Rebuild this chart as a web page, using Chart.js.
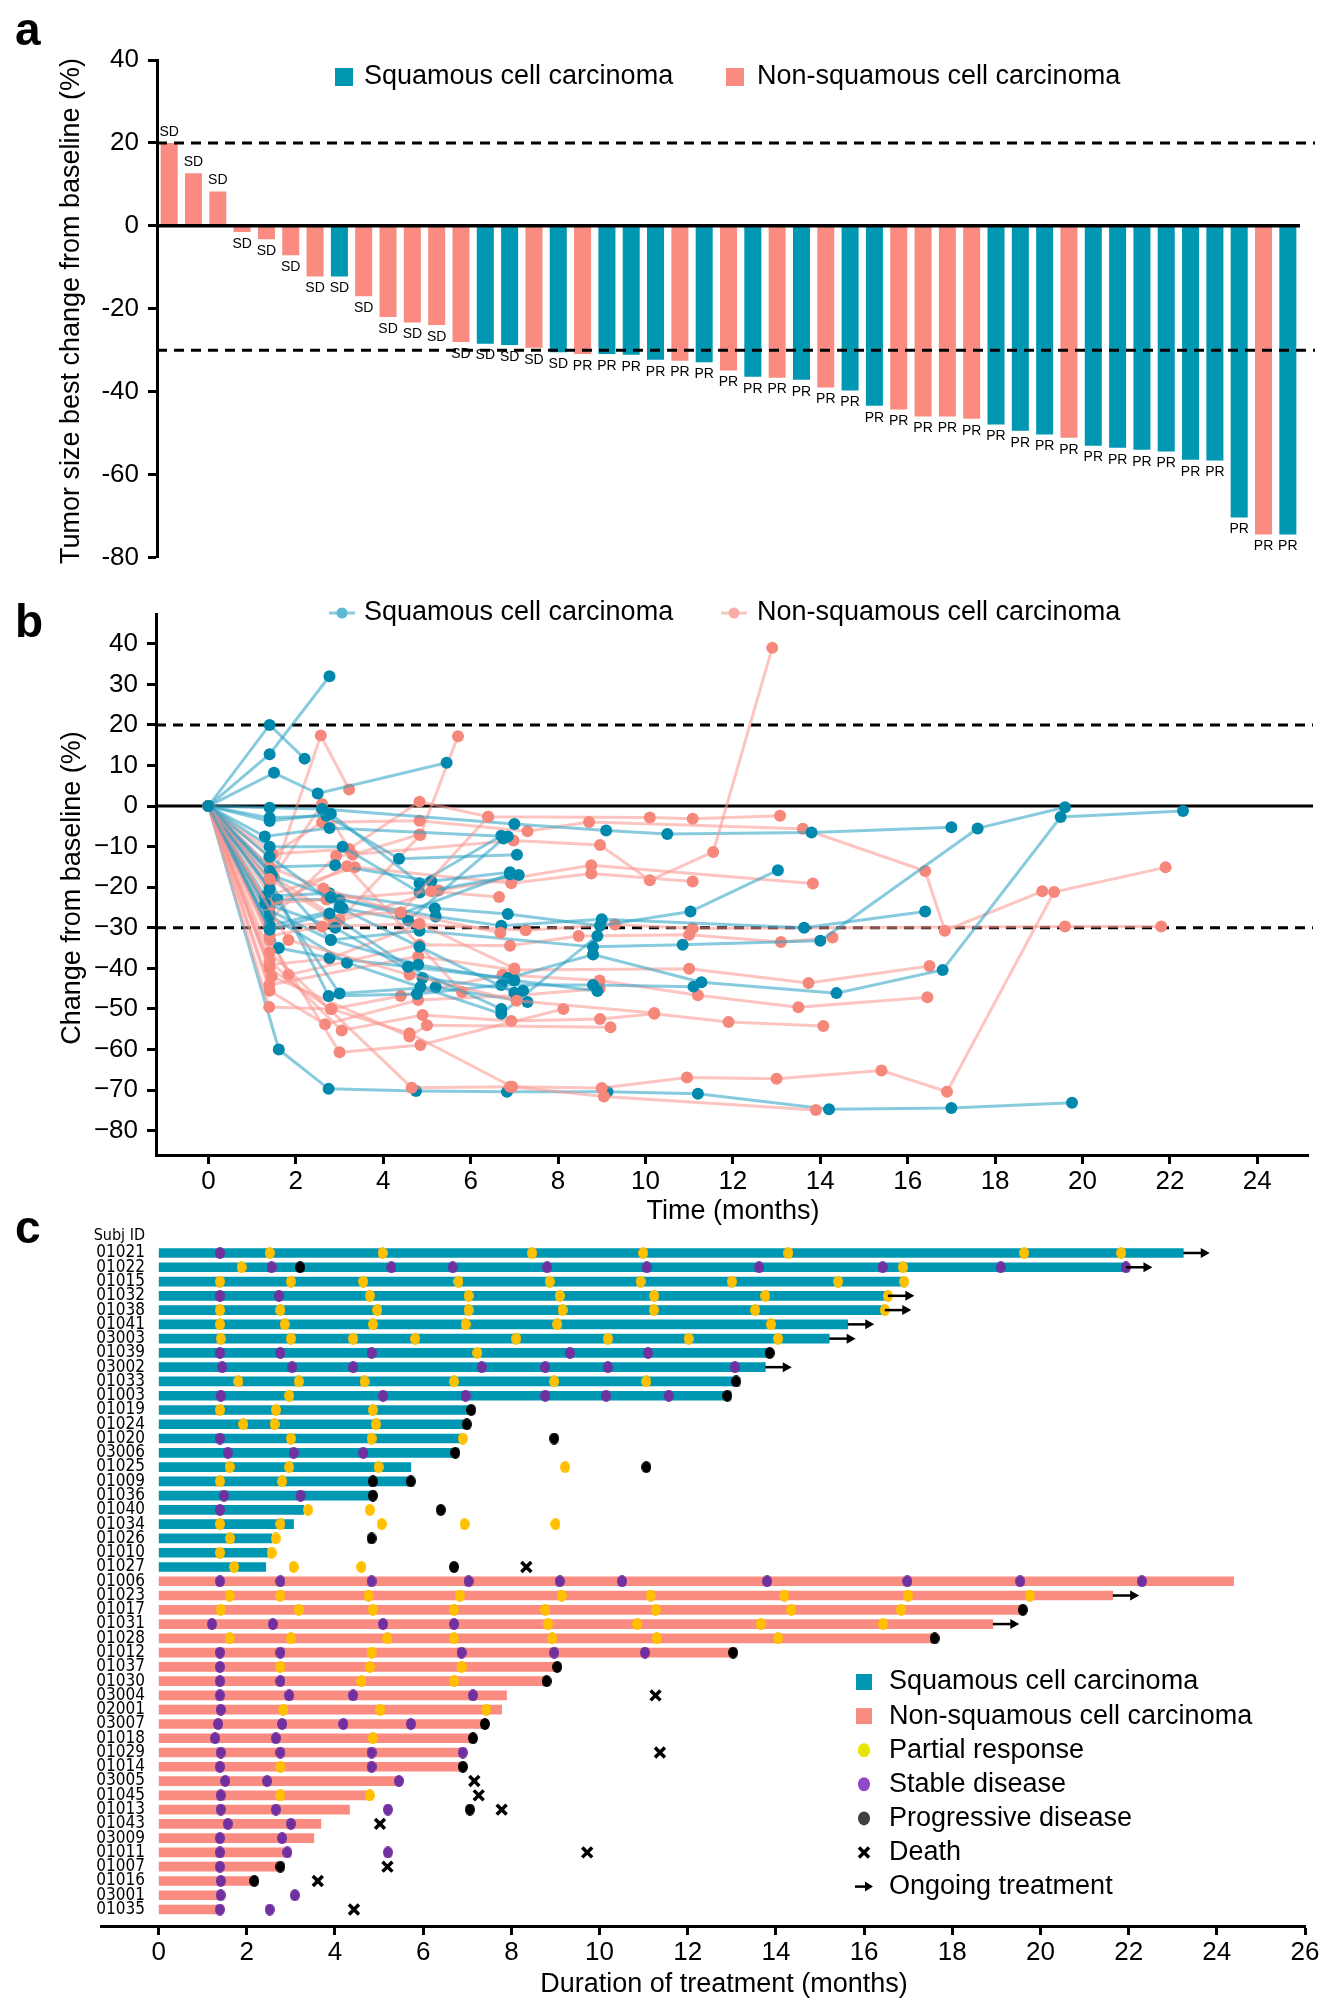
<!DOCTYPE html>
<html>
<head>
<meta charset="utf-8">
<script src="https://cdn.jsdelivr.net/npm/chart.js@4"></script>
<style>
  body { margin: 0; background: #fff; }
  #page { position: relative; width: 1339px; height: 2005px; background: #fff; }
  canvas { position: absolute; left: 0; }
</style>
</head>
<body>
<div id="page">
  <canvas id="chartA" width="1339" height="590" style="top:0"></canvas>
  <canvas id="chartB" width="1339" height="650" style="top:590px"></canvas>
  <canvas id="chartC" width="1339" height="790" style="top:1215px"></canvas>
</div>
<script>
// ---------- data: panel a (waterfall) ----------
const waterfallValues = [20, 12.7, 8.3, -1.5, -3.2, -7.1, -12.2, -12.2, -17.0, -22.0, -23.3, -23.9, -28.0, -28.4, -28.7, -29.4,
  -30.5, -30.9, -30.9, -31.1, -32.3, -32.5, -32.9, -34.9, -36.4, -36.6, -37.1, -39.0, -39.7, -43.4, -44.3, -46.0, -46.0,
  -46.5, -47.9, -49.4, -50.3, -51.1, -53.0, -53.5, -54.0, -54.4, -56.4, -56.6, -70.3, -74.4, -74.4];
const waterfallType = ['N','N','N','N','N','N','N','S','N','N','N','N','N','S','S','N','S','N','S','S','S','N','S','N',
  'S','N','S','N','S','S','N','N','N','N','S','S','S','N','S','S','S','S','S','S','S','N','S'];
const waterfallResponse = ['SD','SD','SD','SD','SD','SD','SD','SD','SD','SD','SD','SD','SD','SD','SD','SD','SD',
  'PR','PR','PR','PR','PR','PR','PR','PR','PR','PR','PR','PR','PR','PR','PR','PR','PR','PR','PR','PR','PR','PR','PR',
  'PR','PR','PR','PR','PR','PR','PR'];
const thresholds = [20, -30];

// ---------- data: panel b (spider plot), [month, % change] ----------
const squamousTraj = [
  [[0,0],[1.4,20],[2.2,11.7]],
  [[0,0],[1.4,12.8],[2.77,32]],
  [[0,0],[1.5,8.2],[2.5,3.1],[5.45,10.7]],
  [[0,0],[1.4,-0.4],[2.6,-0.7],[7.0,-4.4],[9.1,-6.0],[10.5,-6.9],[13.8,-6.5],[17.0,-5.2]],
  [[0,0],[1.4,-2.9],[2.7,-2.4],[4.36,-13],[7.06,-12]],
  [[0,0],[1.4,-3.7],[2.8,-1.9],[4.83,-19],[6.7,-7.3]],
  [[0,0],[1.29,-7.5],[2.77,-5.4],[6.85,-7.5]],
  [[0,0],[1.61,-60],[2.75,-69.7],[4.75,-70.2],[6.83,-70.4],[9.13,-70.4],[11.2,-70.9],[14.2,-74.7],[17.0,-74.4],[19.76,-73.1]],
  [[0,0],[1.4,-10],[3.07,-10],[4.83,-21.3],[7.1,-17]],
  [[0,0],[1.4,-15],[2.9,-14.6],[5.1,-18.5],[6.9,-16.3]],
  [[0,0],[1.29,-22.2],[2.77,-21.5],[5.18,-25.2],[6.85,-26.6],[8.96,-29.5],[11.03,-26],[13.03,-15.8]],
  [[0,0],[1.58,-23],[3.0,-23],[5.2,-27.2],[6.7,-29.5],[9.0,-27.9],[13.63,-30],[16.4,-26]],
  [[0,0],[1.39,-25.7],[2.8,-33],[4.83,-30.7],[8.8,-34.7],[10.85,-34.2],[14.0,-33.2],[17.6,-5.5],[19.6,-0.3]],
  [[0,0],[1.4,-29.5],[3.07,-25.2],[4.57,-28.2],[6.75,-8]],
  [[0,0],[1.61,-35],[2.77,-37.4],[4.57,-39.6],[6.85,-42.4],[8.8,-36.6],[11.28,-43.4],[14.37,-46.1],[16.8,-40.4],[19.5,-2.7],[22.3,-1.2]],
  [[0,0],[1.4,-18],[2.75,-46.8],[4.77,-46.3],[6.7,-44.1],[8.8,-44.1],[11.1,-44.5]],
  [[0,0],[1.4,-20.5],[3.0,-46.2],[5.2,-44.6],[7.3,-48.3]],
  [[0,0],[1.4,-27],[3.17,-38.6],[4.85,-44.6],[6.7,-51.2],[8.9,-32]],
  [[0,0],[1.4,-16],[2.8,-33],[4.8,-39.1],[7.0,-43],[8.9,-45.6]],
  [[0,0],[1.3,-24],[2.9,-30],[4.9,-42.4],[7.2,-45.5]],
  [[0,0],[1.4,-12.5],[3.0,-25],[4.83,-34.7],[7.0,-46]],
  [[0,0],[1.45,-17],[2.8,-22.5],[4.4,-26.5],[6.9,-16.8]],
  [[0,0],[1.4,-30.5],[2.77,-26.5],[4.57,-39.6],[6.7,-50]]
];
const nonSquamousTraj = [
  [[0,0],[1.4,-20],[2.57,17.4],[3.22,4.1]],
  [[0,0],[1.5,-17.5],[3.0,-28],[4.85,-7.1],[5.71,17.2]],
  [[0,0],[1.47,-11.8],[3.22,-10.6],[4.83,1.1],[6.4,-2.6],[10.1,-2.8],[11.08,-3.1],[13.08,-2.4]],
  [[0,0],[1.39,-12.5],[2.6,-4],[4.83,-3.6],[7.3,-6.2],[8.71,-3.9],[13.6,-5.6],[16.4,-16],[16.85,-30.7],[19.08,-21]],
  [[0,0],[1.4,-28],[2.92,-12.3],[6.98,-8.5],[8.96,-9.6],[10.1,-18.3],[11.55,-11.3],[12.9,39]],
  [[0,0],[1.4,-22],[3.35,-15.1],[6.93,-19],[8.76,-16.6],[11.08,-18.6]],
  [[0,0],[1.4,-30],[2.87,-28.7],[5.27,-20.8],[8.76,-14.6],[13.83,-19.1]],
  [[0,0],[1.39,-39.1],[2.77,-37.6],[4.8,-29.2],[7.26,-30.6],[9.3,-29.2],[11.08,-30.2],[19.6,-29.7],[21.8,-29.7]],
  [[0,0],[1.83,-41.6],[4.83,-34.2],[6.9,-34.4],[8.47,-32],[11.0,-31.7],[13.1,-33.5],[14.28,-32.4]],
  [[0,0],[1.39,-44.1],[4.8,-37],[7.0,-40.4],[11.0,-40.1],[13.73,-43.6],[16.5,-39.4]],
  [[0,0],[1.39,-49.5],[2.82,-50],[4.4,-46.8],[6.73,-41.6],[8.95,-43],[11.2,-46.6],[13.5,-49.6],[16.45,-47.1]],
  [[0,0],[1.4,-45.5],[2.67,-53.8],[4.8,-47.8],[7.05,-46.7],[8.95,-45]],
  [[0,0],[1.4,-38],[3.05,-55.3],[4.9,-51.5],[6.93,-53],[8.96,-52.5],[10.2,-51.2],[11.9,-53.2],[14.07,-54.2]],
  [[0,0],[1.4,-33],[3.0,-60.7],[4.85,-58.9],[8.12,-50]],
  [[0,0],[1.45,-42],[4.6,-56.8],[5.0,-54],[9.2,-54.5]],
  [[0,0],[1.4,-36],[4.65,-69.4],[6.9,-69.2],[9.0,-69.5],[10.95,-66.9],[13.0,-67.2],[15.4,-65.2],[16.9,-70.4],[19.35,-21.2],[21.9,-15.1]],
  [[0,0],[1.4,-40],[2.8,-50],[4.6,-56],[6.95,-69.2],[9.05,-71.6],[13.9,-74.9]],
  [[0,0],[1.4,-25],[3.17,-14.8],[5.8,-45.8]],
  [[0,0],[1.4,-15],[2.63,-20.3],[4.4,-26.2],[6.68,-31.2]],
  [[0,0],[1.35,-24],[2.7,-23],[5.1,-21],[6.65,-22.4]],
  [[0,0],[1.4,-32],[2.6,-29.7],[4.83,-29],[7.0,-40]],
  [[0,0],[1.83,-33],[4.6,-41.6],[7.05,-48],[10.2,-51]],
  [[0,0],[1.4,-18],[2.75,-27],[4.4,-26.2],[6.4,-2.6]],
  [[0,0],[1.4,-19],[2.6,0.5],[3.3,-12],[4.83,-7]]
];
const spiderXTicks = [0, 2, 4, 6, 8, 10, 12, 14, 16, 18, 20, 22, 24];
const spiderYTicks = [40, 30, 20, 10, 0, -10, -20, -30, -40, -50, -60, -70, -80];

// ---------- data: panel c (swimmer plot) ----------
const subjIds = ['01021','01022','01015','01032','01038','01041','03003','01039','03002','01033','01003','01019','01024',
  '01020','03006','01025','01009','01036','01040','01034','01026','01010','01027','01006','01023','01017','01031','01028',
  '01012','01037','01030','03004','02001','03007','01018','01029','01014','03005','01045','01013','01043','03009','01011',
  '01007','01016','03001','01035'];
const histology = ['S','S','S','S','S','S','S','S','S','S','S','S','S','S','S','S','S','S','S','S','S','S','S',
  'N','N','N','N','N','N','N','N','N','N','N','N','N','N','N','N','N','N','N','N','N','N','N','N'];
const durations = [23.24, 21.94, 16.9, 16.54, 16.47, 15.63, 15.21, 13.86, 13.76, 13.1, 12.9, 7.09, 6.99, 6.9, 6.73,
  5.72, 5.72, 4.86, 3.29, 3.06, 2.57, 2.48, 2.43, 24.38, 21.64, 19.6, 18.92, 17.6, 13.03, 9.04, 8.8, 7.89, 7.78, 7.4,
  7.13, 6.9, 6.9, 5.45, 4.79, 4.33, 3.68, 3.52, 2.92, 2.76, 2.17, 1.41, 1.33];
const ongoing = ['01021','01022','01032','01038','01041','03003','03002','01023','01031'];
const prTimes = [
  [2.52,5.08,8.47,10.99,14.28,19.63,21.83], [1.88,16.88], [1.39,3.0,4.64,6.8,8.87,10.93,13.0,15.41,16.91],
  [4.79,7.03,9.1,11.24,13.76,16.54], [1.39,2.76,4.96,7.03,9.16,11.23,13.53,16.47], [1.39,2.86,4.86,6.96,9.04,13.89],
  [1.41,3.0,4.41,5.82,8.11,10.19,12.02,14.05], [7.23], [], [1.81,3.18,4.67,6.7,8.97,11.06], [2.96],
  [1.39,2.66,4.86], [1.92,2.63,4.93], [3.0,4.83,6.9], [], [1.61,2.96,4.99,9.22], [1.39,2.8], [], [3.39,4.79],
  [1.39,2.76,5.06,6.94,9.0], [1.62,2.66], [1.39,2.56], [1.71,3.06,4.6],
  [], [1.61,2.76,4.76,6.83,9.14,11.16,14.19,17.0,19.76], [1.41,3.18,4.86,6.7,8.77,11.27,14.35,16.84],
  [8.83,10.86,13.66,16.43], [1.61,3.0,5.19,6.7,8.93,11.3,14.05], [4.83], [2.76,4.79,6.87], [4.6,6.7], [],
  [2.83,5.03,7.43], [], [4.86], [], [2.76], [], [2.76,4.79], [], [], [], [], [], [], [], []
];
const sdTimes = [
  [1.39], [2.56,5.28,6.67,8.81,11.07,13.62,16.42,19.1,21.94], [], [1.39,2.73], [], [], [],
  [1.39,2.76,4.83,9.33,11.1], [1.44,3.03,4.41,7.33,8.77,10.19,13.07], [], [1.41,5.09,6.96,8.77,10.15,11.57],
  [], [], [1.39], [1.57,3.06,4.64], [], [], [1.48,3.22], [1.39], [], [], [], [],
  [1.39,2.76,4.83,7.03,9.1,10.51,13.8,16.98,19.54,22.3], [], [], [1.21,2.59,5.09,6.7], [],
  [1.39,2.76,6.87,8.97,11.03], [1.39], [1.39,2.76], [1.39,2.96,4.41,7.13], [1.41], [1.35,2.8,4.19,5.72],
  [1.28,2.66], [1.41,2.76,4.83,6.9], [1.39,4.83], [1.51,2.46,5.45], [1.41], [1.41,2.66,5.2], [1.57,3.0],
  [1.39,2.8], [1.39,2.92,5.2], [1.39], [1.41], [1.41,3.09], [1.39,2.52]
];
const pdTimes = [
  [], [3.21], [], [], [], [], [], [13.86], [], [13.1], [12.9], [7.09], [6.99], [8.97], [6.73], [11.06],
  [4.86,5.72], [4.86], [6.4], [], [4.83], [], [6.7],
  [], [], [19.6], [], [17.6], [13.03], [9.04], [8.8], [], [], [7.4], [7.13], [], [6.9], [], [], [7.06],
  [], [], [], [2.76], [2.17], [], []
];
const deathTimes = [null, null, null, null, null, null, null, null, null, null, null, null, null, null, null, null,
  null, null, null, null, null, null, 8.34, null, null, null, null, null, null, null, null, 11.27, null, null, null,
  11.37, null, 7.16, 7.26, 7.78, 5.02, null, 9.72, 5.19, 3.61, null, 4.43];
const swimmerTicks = [0, 2, 4, 6, 8, 10, 12, 14, 16, 18, 20, 22, 24, 26];

// ---------- styles ----------
const FONT = "'Liberation Sans', Arial, sans-serif";
const NARROW = "'Liberation Sans Narrow', 'DejaVu Sans Condensed', 'Liberation Sans', sans-serif";
const BLUE = '#0097B2';
const PINK = '#FA8B80';
const BLUE_PT = '#0089AD';
const PINK_PT = '#F6877B';
const BLUE_LINE = 'rgba(40,160,195,0.55)';
const PINK_LINE = 'rgba(250,150,142,0.55)';
const PR_COLOR = '#FFC000';
const SD_COLOR = '#7030A0';

function drawText(ctx, str, x, y, o) {
  ctx.save();
  ctx.font = o.font;
  ctx.fillStyle = o.color || '#000';
  ctx.textAlign = o.align || 'left';
  ctx.textBaseline = o.baseline || 'middle';
  ctx.translate(x, y);
  if (o.rotate) ctx.rotate(o.rotate);
  ctx.fillText(str, 0, 0);
  ctx.restore();
}

function hline(ctx, x0, x1, y, width, dash) {
  ctx.save();
  ctx.strokeStyle = '#000';
  ctx.lineWidth = width;
  ctx.setLineDash(dash || []);
  ctx.beginPath();
  ctx.moveTo(x0, y);
  ctx.lineTo(x1, y);
  ctx.stroke();
  ctx.restore();
}

function ellipseMarker(color, w, h) {
  const c = document.createElement('canvas');
  c.width = w; c.height = h;
  const g = c.getContext('2d');
  g.fillStyle = color;
  g.beginPath();
  g.ellipse(w / 2, h / 2, w / 2, h / 2, 0, 0, Math.PI * 2);
  g.fill();
  return c;
}

function axisStyle() {
  return {
    ticks: { font: { size: 26, family: FONT }, color: '#000', padding: 9, autoSkip: false, maxRotation: 0 },
    grid: { drawOnChartArea: false, tickLength: 9, tickWidth: 3, tickColor: '#000', offset: false },
    border: { display: true, color: '#000', width: 3 }
  };
}

// ---------- panel a ----------
const waterfallExtras = {
  id: 'waterfallExtras',
  afterDatasetsDraw(chart) {
    const { ctx, chartArea, scales: { y } } = chart;
    hline(ctx, chartArea.left, chartArea.right, y.getPixelForValue(0), 3.5);
    thresholds.forEach(v => hline(ctx, chartArea.left, 1315, y.getPixelForValue(v), 3, [10, 7]));
    chart.getDatasetMeta(0).data.forEach((bar, i) => {
      const ly = waterfallValues[i] >= 0 ? bar.y - 11 : bar.y + 12;
      drawText(ctx, waterfallResponse[i], bar.x, ly, { font: '14px ' + FONT, align: 'center' });
    });
  },
  afterDraw(chart) {
    const ctx = chart.ctx;
    drawText(ctx, 'a', 15, 45, { font: 'bold 46px ' + FONT, baseline: 'alphabetic' });
    drawText(ctx, 'Tumor size best change from baseline (%)', 72, 311, { font: '27px ' + FONT, align: 'center', rotate: -Math.PI / 2 });
    ctx.fillStyle = BLUE; ctx.fillRect(335, 68, 18, 18);
    ctx.fillStyle = PINK; ctx.fillRect(726, 68, 18, 18);
    drawText(ctx, 'Squamous cell carcinoma', 364, 77, { font: '27px ' + FONT });
    drawText(ctx, 'Non-squamous cell carcinoma', 757, 77, { font: '27px ' + FONT });
  }
};

const yA = axisStyle();
new Chart(document.getElementById('chartA'), {
  type: 'bar',
  data: {
    labels: waterfallValues.map((v, i) => String(i + 1)),
    datasets: [{
      data: waterfallValues,
      backgroundColor: waterfallType.map(t => t === 'S' ? BLUE : PINK),
      barPercentage: 0.7,
      categoryPercentage: 1
    }]
  },
  options: {
    responsive: false,
    animation: false,
    layout: { padding: { left: 0, top: 60, right: 39, bottom: 32.4 } },
    plugins: { legend: { display: false }, tooltip: { enabled: false } },
    scales: {
      x: { display: false },
      y: {
        min: -80, max: 40,
        afterFit: s => { s.width = 157; },
        ticks: Object.assign({}, yA.ticks, { stepSize: 20 }),
        grid: yA.grid,
        border: yA.border
      }
    }
  },
  plugins: [waterfallExtras]
});

// ---------- panel b ----------
const spiderExtras = {
  id: 'spiderExtras',
  beforeDatasetsDraw(chart) {
    const { ctx, chartArea, scales: { y } } = chart;
    hline(ctx, chartArea.left, 1313, y.getPixelForValue(0), 3);
    thresholds.forEach(v => hline(ctx, chartArea.left, 1313, y.getPixelForValue(v), 3, [10, 7]));
  },
  afterDraw(chart) {
    const ctx = chart.ctx;
    drawText(ctx, 'b', 15, 47, { font: 'bold 46px ' + FONT, baseline: 'alphabetic' });
    drawText(ctx, 'Change from baseline (%)', 73, 298, { font: '27px ' + FONT, align: 'center', rotate: -Math.PI / 2 });
    drawText(ctx, 'Time (months)', 733, 622, { font: '27px ' + FONT, align: 'center' });
    const items = [[342, 'rgba(60,170,200,0.6)', '#5DB9D2', 'Squamous cell carcinoma', 364],
                   [734, 'rgba(248,160,152,0.6)', '#F7ADA5', 'Non-squamous cell carcinoma', 757]];
    items.forEach(([cx, lc, pc, label, tx]) => {
      ctx.save();
      ctx.strokeStyle = lc; ctx.lineWidth = 3;
      ctx.beginPath(); ctx.moveTo(cx - 13, 23); ctx.lineTo(cx + 13, 23); ctx.stroke();
      ctx.fillStyle = pc;
      ctx.beginPath(); ctx.arc(cx, 23, 5.5, 0, Math.PI * 2); ctx.fill();
      ctx.restore();
      drawText(ctx, label, tx, 23, { font: '27px ' + FONT });
    });
  }
};

function spiderDataset(traj, line, pt) {
  return {
    data: traj.map(p => ({ x: p[0], y: p[1] })),
    showLine: true,
    borderColor: line,
    borderWidth: 3,
    pointRadius: 6,
    pointBorderWidth: 0,
    pointBackgroundColor: pt,
    pointHoverRadius: 6
  };
}
const spiderSets = [spiderDataset(nonSquamousTraj[23], PINK_LINE, PINK_PT)];
squamousTraj.forEach((t, i) => {
  spiderSets.push(spiderDataset(nonSquamousTraj[i], PINK_LINE, PINK_PT));
  spiderSets.push(spiderDataset(t, BLUE_LINE, BLUE_PT));
});
spiderSets.reverse();

const axB = axisStyle();
new Chart(document.getElementById('chartB'), {
  type: 'scatter',
  data: { datasets: spiderSets },
  options: {
    responsive: false,
    animation: false,
    layout: { padding: { left: 0, top: 16, right: 31, bottom: 0 } },
    plugins: { legend: { display: false }, tooltip: { enabled: false } },
    scales: {
      x: {
        type: 'linear', min: -1.2, max: 25.16, offset: false,
        afterBuildTicks: s => { s.ticks = spiderXTicks.map(v => ({ value: v })); },
        afterFit: s => { s.height = 85; },
        ticks: Object.assign({}, axB.ticks, { padding: 2 }),
        grid: axB.grid, border: axB.border
      },
      y: {
        type: 'linear', min: -86, max: 47.2, offset: false,
        afterBuildTicks: s => { s.ticks = spiderYTicks.map(v => ({ value: v })); },
        afterFit: s => { s.width = 156; },
        ticks: Object.assign({}, axB.ticks, { callback: v => v < 0 ? '\u2212' + Math.abs(v) : String(v) }),
        grid: axB.grid, border: axB.border
      }
    }
  },
  plugins: [spiderExtras]
});

// ---------- panel c ----------
const swimmerExtras = {
  id: 'swimmerExtras',
  afterDatasetsDraw(chart) {
    const { ctx, scales: { x, y } } = chart;
    ctx.save();
    ctx.strokeStyle = '#000'; ctx.fillStyle = '#000'; ctx.lineWidth = 2.5;
    ongoing.forEach(id => {
      const i = subjIds.indexOf(id);
      const x0 = x.getPixelForValue(durations[i]);
      const x1 = x.getPixelForValue(durations[i] + 0.6);
      const py = y.getPixelForValue(i);
      ctx.beginPath(); ctx.moveTo(x0, py); ctx.lineTo(x1 - 6, py); ctx.stroke();
      ctx.beginPath(); ctx.moveTo(x1, py); ctx.lineTo(x1 - 9, py - 5); ctx.lineTo(x1 - 9, py + 5); ctx.closePath(); ctx.fill();
    });
    ctx.restore();
  },
  afterDraw(chart) {
    const { ctx, scales: { y } } = chart;
    drawText(ctx, 'c', 15, 28, { font: 'bold 46px ' + FONT, baseline: 'alphabetic' });
    drawText(ctx, 'Subj ID', 145, y.getPixelForValue(-1.2), { font: '16px ' + NARROW, align: 'right' });
    subjIds.forEach((id, i) => {
      drawText(ctx, id, 145, y.getPixelForValue(i), { font: '17px ' + NARROW, align: 'right' });
    });
    drawText(ctx, 'Duration of treatment (months)', 724, 770, { font: '27px ' + FONT, align: 'center' });
    // legend
    const lx = 864, tx = 889, ly0 = 467, step = 34.1;
    const labels = ['Squamous cell carcinoma', 'Non-squamous cell carcinoma', 'Partial response', 'Stable disease',
      'Progressive disease', 'Death', 'Ongoing treatment'];
    labels.forEach((lab, k) => {
      const ly = ly0 + k * step;
      ctx.save();
      if (k === 0 || k === 1) {
        ctx.fillStyle = k === 0 ? BLUE : PINK;
        ctx.fillRect(lx - 8, ly - 8, 16, 16);
      } else if (k >= 2 && k <= 4) {
        ctx.fillStyle = ['#E6E600', '#9348C8', '#404040'][k - 2];
        ctx.beginPath(); ctx.ellipse(lx, ly, 6, 7, 0, 0, Math.PI * 2); ctx.fill();
      } else if (k === 5) {
        ctx.strokeStyle = '#000'; ctx.lineWidth = 3.5;
        ctx.beginPath(); ctx.moveTo(lx - 5, ly - 5); ctx.lineTo(lx + 5, ly + 5);
        ctx.moveTo(lx + 5, ly - 5); ctx.lineTo(lx - 5, ly + 5); ctx.stroke();
      } else {
        ctx.strokeStyle = '#000'; ctx.fillStyle = '#000'; ctx.lineWidth = 2.5;
        ctx.beginPath(); ctx.moveTo(lx - 9, ly); ctx.lineTo(lx + 3, ly); ctx.stroke();
        ctx.beginPath(); ctx.moveTo(lx + 9, ly); ctx.lineTo(lx + 1, ly - 5); ctx.lineTo(lx + 1, ly + 5); ctx.closePath(); ctx.fill();
      }
      ctx.restore();
      drawText(ctx, lab, tx, ly, { font: '27px ' + FONT });
    });
  }
};

function markerPoints(times) {
  const pts = [];
  times.forEach((arr, row) => arr.forEach(t => pts.push({ x: t, y: row })));
  return pts;
}
const deathPoints = [];
deathTimes.forEach((t, row) => { if (t !== null) deathPoints.push({ x: t, y: row }); });

const axC = axisStyle();
new Chart(document.getElementById('chartC'), {
  type: 'bar',
  data: {
    datasets: [
      { type: 'scatter', order: 1, data: markerPoints(prTimes), pointStyle: ellipseMarker(PR_COLOR, 10, 12), pointRadius: 6 },
      { type: 'scatter', order: 1, data: markerPoints(sdTimes), pointStyle: ellipseMarker(SD_COLOR, 10, 12), pointRadius: 6 },
      { type: 'scatter', order: 1, data: markerPoints(pdTimes), pointStyle: ellipseMarker('#000', 10, 12), pointRadius: 6 },
      { type: 'scatter', order: 1, data: deathPoints, pointStyle: 'crossRot', pointRadius: 7, borderColor: '#000', borderWidth: 3.5 },
      {
        type: 'bar', order: 5, indexAxis: 'y',
        data: durations.map((d, i) => ({ x: [0, d], y: i })),
        backgroundColor: histology.map(h => h === 'S' ? BLUE : PINK),
        barThickness: 9
      }
    ]
  },
  options: {
    responsive: false,
    animation: false,
    layout: { padding: { left: 101, top: 25, right: 34, bottom: 0 } },
    plugins: { legend: { display: false }, tooltip: { enabled: false } },
    scales: {
      x: {
        type: 'linear', min: -1.307, max: 26, offset: false,
        afterBuildTicks: s => { s.ticks = swimmerTicks.map(v => ({ value: v })); },
        afterFit: s => { s.height = 79; },
        ticks: Object.assign({}, axC.ticks, { padding: 2 }),
        grid: axC.grid, border: axC.border
      },
      y: { type: 'linear', display: false, reverse: true, offset: false, grid: { offset: false }, min: -0.911, max: 47.156 }
    }
  },
  plugins: [swimmerExtras]
});
</script>
</body>
</html>
